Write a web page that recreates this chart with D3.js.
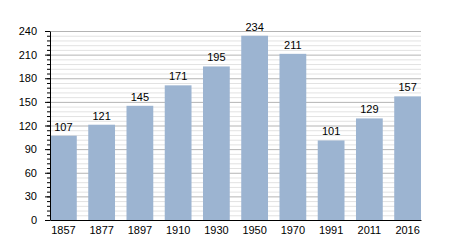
<!DOCTYPE html>
<html>
<head>
<meta charset="utf-8">
<script src="https://cdn.jsdelivr.net/npm/d3@7"></script>
<style>
  body { margin: 0; background: #fff; }
  text { font-family: "Liberation Sans", Arial, sans-serif; font-size: 11px; fill: #000; }
</style>
</head>
<body>
<div id="chart"></div>
<script>
// population by census year
const years = ["1857", "1877", "1897", "1910", "1930", "1950", "1970", "1991", "2011", "2016"];
const population = [107, 121, 145, 171, 195, 234, 211, 101, 129, 157];
const yTicks = [0, 30, 60, 90, 120, 150, 180, 210, 240];
const yMinorTicks = d3.range(0, 241, 6);

const margin = { top: 31, right: 29, bottom: 30, left: 50 },
    width = 450 - margin.left - margin.right,
    height = 250 - margin.top - margin.bottom;

const svg = d3.select("#chart")
    .append("svg")
    .attr("width", 450)
    .attr("height", 250)
    .append("g")
    .attr("transform", `translate(${margin.left},${margin.top})`);

const x = d3.scaleBand().domain(years).range([0, width]).paddingInner(0.3).paddingOuter(0);
const y = d3.scaleLinear().domain([0, 240]).range([height, 0]);

// minor gridlines
svg.append("g")
    .selectAll("line")
    .data(yMinorTicks.filter(d => d % 30 !== 0))
    .join("line")
    .attr("x1", 0).attr("x2", width)
    .attr("y1", d => y(d) + 0.5).attr("y2", d => y(d) + 0.5)
    .attr("stroke", "#e2e2e2");

// major gridlines
svg.append("g")
    .selectAll("line")
    .data(yTicks.filter(d => d > 0))
    .join("line")
    .attr("x1", 0).attr("x2", width)
    .attr("y1", d => y(d) + 0.5).attr("y2", d => y(d) + 0.5)
    .attr("stroke", "#b4b4b4");

// bars
svg.append("g")
    .selectAll("rect")
    .data(population)
    .join("rect")
    .attr("x", (d, i) => x(years[i]))
    .attr("y", d => y(d))
    .attr("width", x.bandwidth())
    .attr("height", d => height - y(d))
    .attr("fill", "#9cb4d1");

// value labels
svg.append("g")
    .selectAll("text")
    .data(population)
    .join("text")
    .attr("x", (d, i) => x(years[i]) + x.bandwidth() / 2)
    .attr("y", d => y(d) - 5)
    .attr("text-anchor", "middle")
    .text(d => d);

// minor ticks on y axis
svg.append("g")
    .call(d3.axisLeft(y).tickValues(yMinorTicks).tickSize(3).tickFormat(""))
    .call(g => g.select(".domain").remove());

// y axis
svg.append("g")
    .call(d3.axisLeft(y).tickValues(yTicks).tickSize(5).tickSizeOuter(0).tickPadding(8))
    .call(g => g.selectAll("text").attr("font-size", 11).attr("font-family", null));

// x axis
svg.append("g")
    .attr("transform", `translate(0,${height})`)
    .call(d3.axisBottom(x).tickSize(0).tickPadding(6))
    .call(g => g.selectAll("text").attr("font-size", 11).attr("font-family", null));
</script>
</body>
</html>
